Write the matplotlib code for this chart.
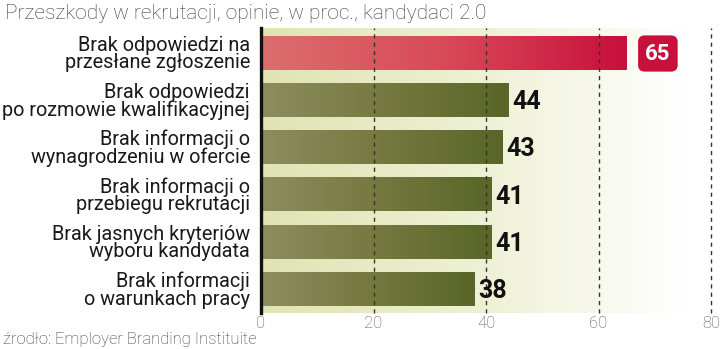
import numpy as np
import matplotlib.pyplot as plt
from matplotlib.colors import LinearSegmentedColormap

categories = [
    "Brak odpowiedzi na\nprzesłane zgłoszenie",
    "Brak odpowiedzi\npo rozmowie kwalifikacyjnej",
    "Brak informacji o\nwynagrodzeniu w ofercie",
    "Brak informacji o\nprzebiegu rekrutacji",
    "Brak jasnych kryteriów\nwyboru kandydata",
    "Brak informacji\no warunkach pracy",
]
values = [65, 44, 43, 41, 41, 38]
xticks = [0, 20, 40, 60, 80]
title = "Przeszkody w rekrutacji, opinie, w proc., kandydaci 2.0"
source = "źrodło: Employer Branding Instituite"

plt.rcParams['font.family'] = ['Roboto', 'DejaVu Sans']

fig = plt.figure(figsize=(7.2, 3.49), dpi=100)
ax = fig.add_axes([0.3625, 0.1032, 0.625, 0.8166])

y = np.arange(len(values))
xmax = 80
ax.set_xlim(0, xmax)
ax.set_ylim(len(values) - 0.49, -0.52)

# background wash fading to white towards the right
bg = LinearSegmentedColormap.from_list('bg', ['#e0e4b2', '#eef0d4', '#ffffff'])
grad = np.linspace(0, 1, 256).reshape(1, -1)
ax.imshow(grad, cmap=bg, extent=[0, 76, len(values) - 0.49, -0.52],
          aspect='auto', zorder=0)

green = LinearSegmentedColormap.from_list('green', ['#8c8e60', '#75793f', '#596628'])
red = LinearSegmentedColormap.from_list('red', ['#dc6e6e', '#d84a58', '#c8103c'])

bars = ax.barh(y, values, height=0.72, color='none', zorder=2)
for i, (b, v) in enumerate(zip(bars, values)):
    cmap = red if i == 0 else green
    im = ax.imshow(grad, cmap=cmap, aspect='auto', zorder=2,
                   extent=[0, v, y[i] + 0.36, y[i] - 0.36])
    im.set_clip_path(b)
    if i == 0:
        ax.text(v + 3.3, y[i] + 0.02, str(v), ha='left', va='center',
                color='white', fontsize=16, fontweight='bold', zorder=4,
                bbox=dict(boxstyle='round,pad=0.32,rounding_size=0.3',
                          fc='#c8103c', ec='none'))
    else:
        ax.text(v + 0.6, y[i] + 0.05, str(v), ha='left', va='center',
                color='#111111', fontsize=18, fontweight='bold', zorder=4)

for t in xticks[1:]:
    ax.axvline(t, color='#333333', lw=1, ls=(0, (3, 3)), zorder=3, clip_on=False)

ax.set_yticks(y)
ax.set_yticklabels(categories, fontsize=14.3, color='#1a1a1a', linespacing=0.9)
ax.set_xticks(xticks)
ax.set_xticklabels([str(t) for t in xticks], fontsize=12, color='#555555',
                   fontweight='light')
ax.tick_params(length=0, axis='both')
ax.tick_params(axis='y', pad=8)
ax.tick_params(axis='x', pad=2)

for s in ['top', 'right', 'bottom']:
    ax.spines[s].set_visible(False)
ax.spines['left'].set_linewidth(2.4)
ax.spines['left'].set_color('#111111')
ax.spines['left'].set_zorder(5)

fig.text(0.007, 0.962, title, fontsize=15, color='#3a3a3a',
         fontweight='light', ha='left', va='center')
fig.text(0.004, 0.005, source, fontsize=12, color='#3a3a3a',
         fontweight='light', ha='left', va='bottom')

fig.savefig('out.png', dpi=100)
